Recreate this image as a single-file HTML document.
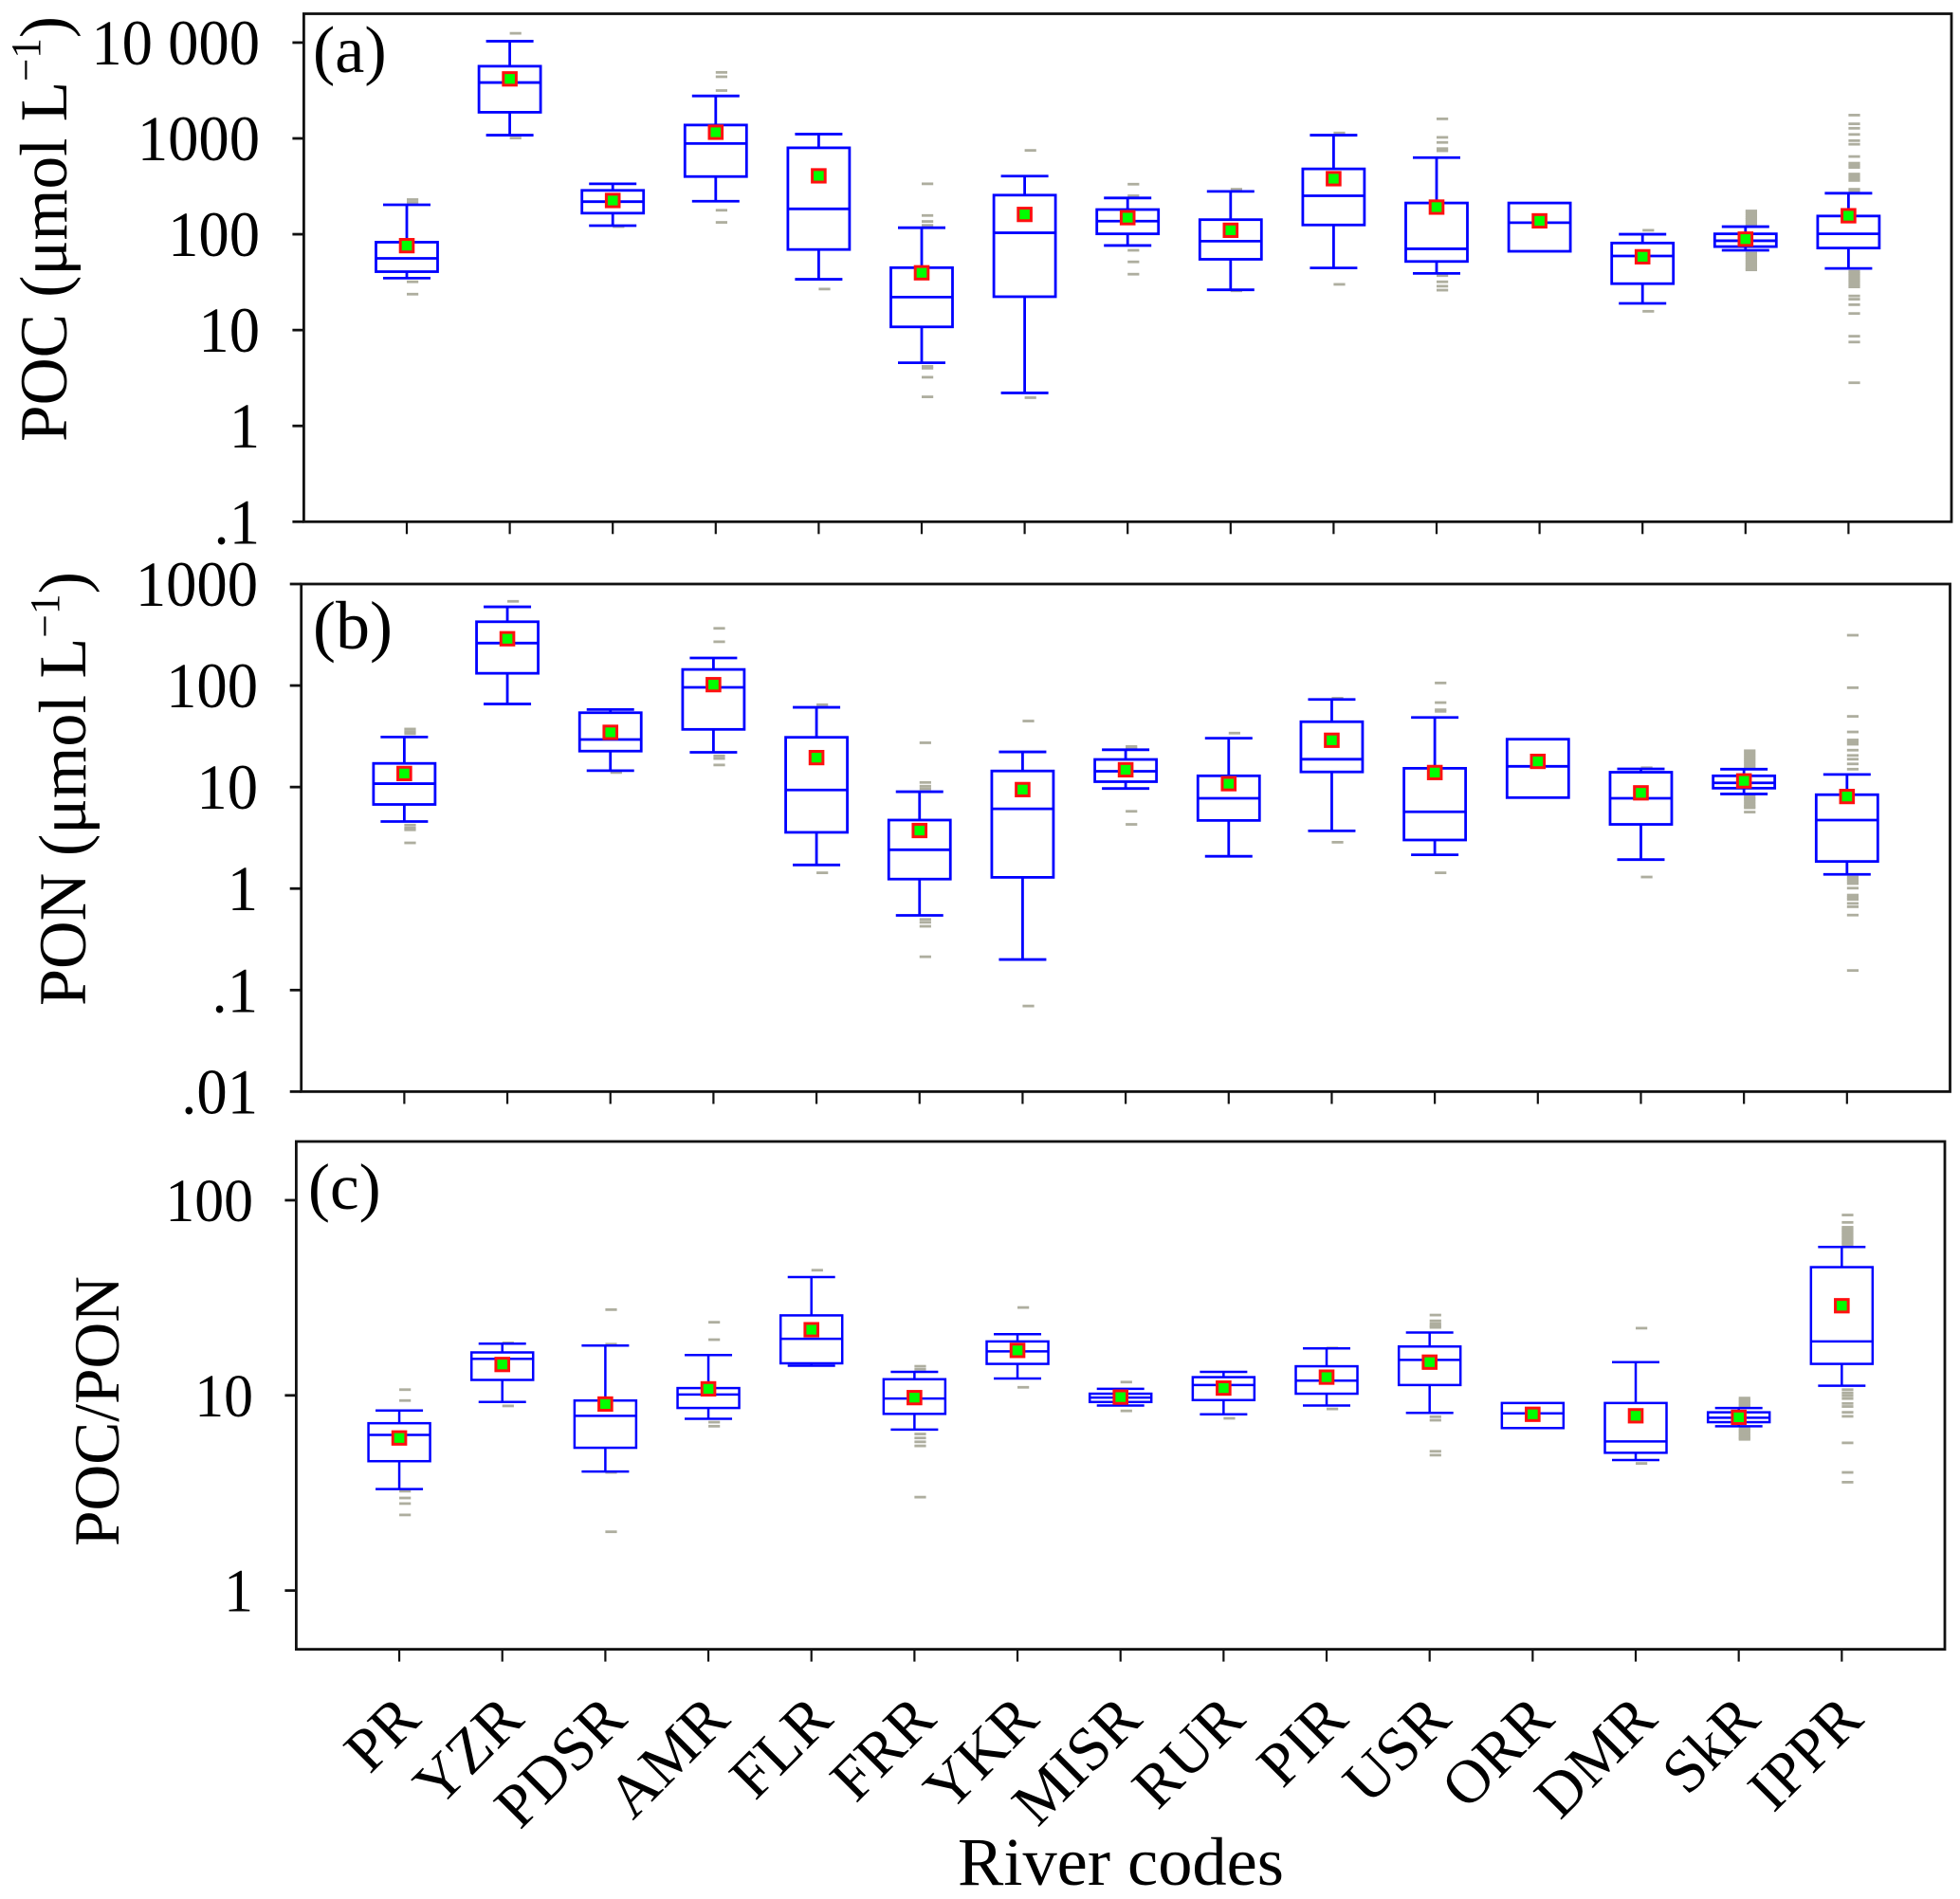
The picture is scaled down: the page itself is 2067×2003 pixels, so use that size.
<!DOCTYPE html>
<html lang="en">
<head>
<meta charset="utf-8">
<title>POC, PON and POC/PON by river</title>
<style>
html,body{margin:0;padding:0;background:#fff;}
svg{display:block;}
text{font-family:"Liberation Serif",serif;fill:#000;}
</style>
</head>
<body>
<svg id="chart" xmlns="http://www.w3.org/2000/svg" width="2067" height="2003" viewBox="0 0 2067 2003">
<rect width="2067" height="2003" fill="#fff"/>
<text transform="translate(70,466) rotate(-90)" font-size="71" textLength="449" lengthAdjust="spacingAndGlyphs">POC (μmol L<tspan dy="-28" font-size="44">−1</tspan><tspan dy="28">)</tspan></text>
<text transform="translate(90,1061) rotate(-90)" font-size="71" textLength="458" lengthAdjust="spacingAndGlyphs">PON (μmol L<tspan dy="-28" font-size="44">−1</tspan><tspan dy="28">)</tspan></text>
<text transform="translate(125,1631) rotate(-90)" font-size="68" textLength="285" lengthAdjust="spacingAndGlyphs">POC/PON</text>
<text x="330" y="76" font-size="70">(a)</text>
<text x="330" y="684" font-size="72">(b)</text>
<text x="325" y="1275" font-size="69">(c)</text>
<text x="1010" y="1988" font-size="72" textLength="344" lengthAdjust="spacingAndGlyphs">River codes</text>
<g id="plots"></g>
</svg>
<script>
const categories = ['PR','YZR','PDSR','AMR','FLR','FRR','YKR','MISR','RUR','PIR','USR','ORR','DMR','SkR','IPPR'];

const pocTickLabels = ['10 000','1000','100','10','1','.1'];
const pocTickValues = [10000,1000,100,10,1,0.1];
const pocHigh   = [203,10350,336,2775,1110,117,404,239,280,1081,630,212,100,120,268];
const pocQ3     = [82.6,5670,287,1380,798,44.8,256,181,142,481,212,212,81,101,155];
const pocMedian = [56,3830,219,885,184,22.1,103.5,137,84.7,252,70.5,132,59.3,85.5,101];
const pocQ1     = [40.7,1875,166,400,69.3,10.8,22.3,101,54.8,125,52,66.4,30.5,74.3,71.8];
const pocLow    = [34.8,1081,123,221,33.9,4.56,2.21,76.3,26.3,44.5,39,66.4,19,68,44];
const pocMean   = [76,4180,225,1160,407,39.6,161,149,110,380,192,138,58.2,89,156];
const pocOutliers = [
  [230,215,31.9,23.7],
  [12500,1010],
  [120],
  [4890,4400,3160,178,133],
  [26.8],
  [336,157,136,124,4.18,4.0,3.22,2.01],
  [750,1.97],
  [333,252,68,51.5,38.3],
  [295,25.7],
  [1140,30],
  [1600,1026,908,783,743,37,31.9,28.7,26.1],
  [],
  [110,15.7],
  [175,166,157,149,142,135,128,121,63.5,60.3,57.2,54.3,51.5,48.9,46.4,44.1,42.5],
  [1750,1420,1276,1100,948,869,647,552,525,498,425,404,383,364,295,282,41,39,37,35,33.3,31.6,29.7,28.2,22.7,21,18.4,14.9,8.63,7.5,2.82]
];

const ponTickLabels = ['1000','100','10','1','.1','.01'];
const ponTickValues = [1000,100,10,1,0.1,0.01];
const ponHigh   = [31.1,596,58,187,61,9,22.2,23.3,30.3,73,48.5,29.6,15.1,15,13.3];
const ponQ3     = [17.1,425,54,144,30.9,4.73,14.4,18.7,12.9,44,15.3,29.6,14,12.9,8.41];
const ponMedian = [10.8,262,29.4,96,9.36,2.41,6.1,14.3,7.75,18.8,5.71,16,7.75,11,4.73];
const ponQ1     = [6.74,132,22.6,37,3.58,1.24,1.29,11.3,4.69,14.1,3.01,7.87,4.29,9.75,1.85];
const ponLow    = [4.58,65.8,14.5,22,1.71,0.545,0.2,9.68,2.08,3.7,2.15,7.87,1.93,8.55,1.38];
const ponMean   = [13.6,289,34.6,102,19.5,3.73,9.44,14.8,10.8,28.9,13.9,17.9,8.77,11.5,8.07];
const ponOutliers = [
  [37.3,35.2,33.5,4.22,3.95,3.79,2.82],
  [675],
  [13.9],
  [366,270,20.3,19.1,16.5],
  [64.7,1.43],
  [27.3,11.1,10.2,9.6,0.497,0.465,0.425,0.213],
  [44.7,0.0697],
  [25.1,24.1,5.77,4.29],
  [34],
  [75,2.86],
  [106,67.9,57.7,55.7,1.43],
  [],
  [15.5,1.3],
  [22.8,21.7,20.6,19.6,18.7,17.8,16.9,16.1,15.3,8.28,7.87,7.5,7.14,6.79,6.47,6.25,5.67],
  [313,95.2,49.7,34.9,29.1,27.7,26.4,23.1,20.5,18.8,16.9,15,1.3,1.24,1.18,1.12,1.01,0.863,0.82,0.782,0.714,0.662,0.548,0.156]
];

const ratioTickLabels = ['100','10','1'];
const ratioTickValues = [100,10,1];
const ratioHigh   = [8.37,18.4,18,16.1,40.4,13.2,20.6,10.8,13.2,17.4,21,9.14,14.8,8.62,57.6];
const ratioQ3     = [7.2,16.6,9.41,10.9,25.7,12.1,18.9,10.2,12.4,14.1,17.8,9.14,9.14,8.19,45.4];
const ratioMedian = [6.27,15.4,7.86,10.1,19.5,9.63,16.8,9.74,11.3,11.9,15.2,8.09,5.81,7.68,18.9];
const ratioQ1     = [4.6,12,5.39,8.62,14.6,8.04,14.5,9.25,9.46,10.2,11.3,6.8,5.08,7.29,14.5];
const ratioLow    = [3.31,9.25,4.07,7.59,14.2,6.68,12.2,8.87,8,8.87,8.13,6.8,4.66,6.95,11.2];
const ratioMean   = [6.05,14.4,9.03,10.8,21.7,9.74,17,9.8,10.9,12.4,14.8,8,7.86,7.72,28.8];
const ratioOutliers = [
  [10.7,9.41,3.23,2.98,2.79,2.44],
  [18.6,8.83],
  [27.5,18.3,4.03,2.0],
  [23.7,19.3,7.29,6.95],
  [43.8],
  [14.1,13.6,6.34,6.05,5.78,5.51,3.01],
  [28.2,11],
  [11.7,8.33],
  [7.63],
  [17.5,8.52],
  [25.8,24.1,23.3,22.7,22.3,7.77,7.46,5.17,4.94],
  [],
  [22.1,4.48],
  [9.69,9.5,9.35,9.2,9.03,8.88,8.73,6.79,6.67,6.56,6.45,6.34,6.23,6.12,6.03,5.95],
  [84,77,72.7,71.4,70.2,69,67.8,66.6,65.4,64.3,63.2,62,61,60.1,59.3,10.7,10.3,9.97,9.63,9.09,8.77,8.19,7.81,5.71,4.03,3.59]
];

const SVG_NS = 'http://www.w3.org/2000/svg';
const plots = document.getElementById('plots');

function make(tag, parent, attrs) {
  const el = document.createElementNS(SVG_NS, tag);
  for (const k in attrs) el.setAttribute(k, attrs[k]);
  parent.appendChild(el);
  return el;
}

function drawPanel(p) {
  const logMin = Math.log10(p.domain[0]);
  const logMax = Math.log10(p.domain[1]);
  const yScale = v => p.bottom - (Math.log10(v) - logMin) / (logMax - logMin) * (p.bottom - p.top);
  const xScale = i => p.left + (i + 1) / 16 * (p.right - p.left);

  const g = make('g', plots, {});
  
  

  const frame = make('rect', g, {x: p.left, y: p.top, width: p.right - p.left, height: p.bottom - p.top, fill: 'none', stroke: '#111', 'stroke-width': 2.8});
  
  

  p.tickValues.forEach((v, k) => {
    const y = yScale(v);
    const tick = make('line', g, {x1: p.left - 12, x2: p.left, y1: y, y2: y, stroke: '#111', 'stroke-width': 2.8});
    
    
    const label = make('text', g, {transform: 'translate(' + p.tickRight + ',' + (y + p.tickFont * 0.338) + ') scale(0.95,1)', 'text-anchor': 'end', 'font-size': p.tickFont});
    label.textContent = p.tickLabels[k];
    
    
  });

  categories.forEach((cat, i) => {
    const x = xScale(i);
    const tick = make('line', g, {x1: x, x2: x, y1: p.bottom, y2: p.bottom + 13, stroke: '#111', 'stroke-width': 2.2});
    
    

    const box = make('g', g, {});
    
    

    p.outliers[i].forEach(v => {
      const y = yScale(v);
      const dash = make('rect', box, {x: x, y: y - 1.4, width: 12.2, height: 2.8, fill: '#aeae9f'});
      
      
    });

    const yHigh = yScale(p.high[i]), yQ3 = yScale(p.q3[i]), yMed = yScale(p.median[i]);
    const yQ1 = yScale(p.q1[i]), yLow = yScale(p.low[i]), yMean = yScale(p.mean[i]);
    const blue = {stroke: '#0000ff', 'stroke-width': p.lineWidth, fill: 'none'};

    const whiskerUp = make('line', box, Object.assign({x1: x, x2: x, y1: yHigh, y2: yQ3}, blue));
    
    
    const whiskerDown = make('line', box, Object.assign({x1: x, x2: x, y1: yQ1, y2: yLow}, blue));
    
    

    if (p.high[i] !== p.q3[i]) {
      const capUp = make('line', box, Object.assign({x1: x - 25, x2: x + 25, y1: yHigh, y2: yHigh}, blue));
      
      
    }
    if (p.low[i] !== p.q1[i]) {
      const capDown = make('line', box, Object.assign({x1: x - 25, x2: x + 25, y1: yLow, y2: yLow}, blue));
      
      
    }

    const iqr = make('rect', box, Object.assign({x: x - 32.5, y: yQ3, width: 65, height: yQ1 - yQ3}, blue));
    iqr.setAttribute('fill', '#fff');
    
    

    const median = make('line', box, Object.assign({x1: x - 32.5, x2: x + 32.5, y1: yMed, y2: yMed}, blue));
    
    

    const mean = make('rect', box, {x: x - 6.8, y: yMean - 6.6, width: 13.6, height: 13.2, fill: '#00ff00', stroke: '#ff1010', 'stroke-width': 3});
    
    
  });
}

drawPanel({name: 'poc', left: 320.4, right: 2058, top: 14.5, bottom: 550.3, domain: [0.1, 20000], tickRight: 274, tickFont: 68, lineWidth: 2.8,
  tickValues: pocTickValues, tickLabels: pocTickLabels, high: pocHigh, q3: pocQ3, median: pocMedian, q1: pocQ1, low: pocLow, mean: pocMean, outliers: pocOutliers});
drawPanel({name: 'pon', left: 317.7, right: 2056.5, top: 616, bottom: 1151.4, domain: [0.01, 1000], tickRight: 272, tickFont: 68, lineWidth: 2.8,
  tickValues: ponTickValues, tickLabels: ponTickLabels, high: ponHigh, q3: ponQ3, median: ponMedian, q1: ponQ1, low: ponLow, mean: ponMean, outliers: ponOutliers});
drawPanel({name: 'ratio', left: 312.4, right: 2051, top: 1204, bottom: 1739.6, domain: [0.5, 200], tickRight: 267, tickFont: 65, lineWidth: 2.5,
  tickValues: ratioTickValues, tickLabels: ratioTickLabels, high: ratioHigh, q3: ratioQ3, median: ratioMedian, q1: ratioQ1, low: ratioLow, mean: ratioMean, outliers: ratioOutliers});

categories.forEach((cat, i) => {
  const x = 312.4 + (i + 1) / 16 * (2051 - 312.4) + 25;
  const label = make('text', plots, {transform: 'translate(' + x + ',1816) rotate(-45)', 'text-anchor': 'end', 'font-size': 65});
  label.textContent = cat;
  
  
});
</script>
</body>
</html>
